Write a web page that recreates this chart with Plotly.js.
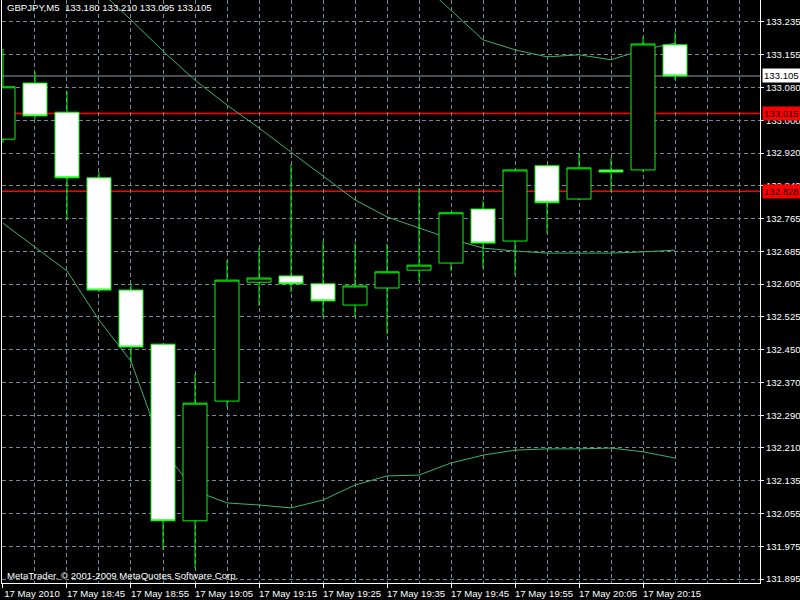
<!DOCTYPE html>
<html>
<head>
<meta charset="utf-8">
<script src="https://cdn.plot.ly/plotly-3.0.1.min.js"></script>
<style>
html,body{margin:0;padding:0;background:#000;}
#chart{width:800px;height:600px;}
</style>
</head>
<body>
<div id="chart"></div>
<script>
// ---------- data ----------
const barTimes = ["18:35","18:40","18:45","18:50","18:55","19:00","19:05","19:10","19:15","19:20","19:25",
                  "19:30","19:35","19:40","19:45","19:50","19:55","20:00","20:05","20:10","20:15","20:20"];
const openP  = [132.953,133.088,133.018,132.860,132.590,132.460,132.035,132.323,132.609,132.624,132.605,
                132.554,132.595,132.638,132.655,132.785,132.708,132.889,132.809,132.879,132.879,133.180];
const highP  = [133.170,133.115,133.069,132.874,132.602,132.462,132.388,132.662,132.691,132.893,132.708,
                132.703,132.701,132.836,132.778,132.804,132.881,132.891,132.920,132.908,133.199,133.210];
const lowP   = [132.944,133.002,132.759,132.585,132.415,131.965,131.921,132.309,132.552,132.585,132.525,
                132.525,132.484,132.609,132.636,132.643,132.626,132.727,132.807,132.826,132.874,133.095];
const closeP = [133.079,133.009,132.860,132.590,132.453,132.035,132.318,132.614,132.619,132.605,132.564,
                132.600,132.634,132.650,132.776,132.703,132.879,132.800,132.884,132.874,133.182,133.105];

const upperBand  = [null,null,null,null,null,null,null,null,null,null,null,null,null,
                    133.334,133.264,133.192,133.168,133.151,133.156,133.144,133.168,133.184];
const middleBand = [null,null,null,133.312,133.240,133.165,133.095,133.035,132.980,132.922,132.865,
                    132.807,132.766,132.739,132.713,132.691,132.684,132.679,132.679,132.679,132.682,132.686];
const lowerBand  = [132.751,132.694,132.636,132.518,132.419,132.205,132.107,132.078,132.073,132.066,132.085,
                    132.121,132.143,132.145,132.174,132.193,132.205,132.208,132.208,132.210,132.201,132.186];

const xTickIndex  = [0,2,4,6,8,10,12,14,16,18,20];
const xTickLabels = ["17 May 2010","17 May 18:45","17 May 18:55","17 May 19:05","17 May 19:15","17 May 19:25",
                     "17 May 19:35","17 May 19:45","17 May 19:55","17 May 20:05","17 May 20:15"];
const yTickLabels = ["133.235","133.155","133.080","133.000","132.920","132.840","132.765","132.685","132.605",
                     "132.525","132.450","132.370","132.290","132.210","132.135","132.055","131.975","131.895"];

const levelPrices = [133.105, 133.015, 132.828];
const symbolTitle = "GBPJPY,M5";
const copyrightText = "MetaTrader, \u00a9 2001-2009 MetaQuotes Software Corp.";

// ---------- styles ----------
const FONT = "Liberation Sans, Arial, sans-serif";
const FS = 9.6;
const GRID = "#778899";
const LIME = "#00FF00";
const BAND = "#3CB371";
const levelLineColors = ["#8A9AAA", "#FF0000", "#FF0000"];
const levelLineWidths = [1, 1.5, 1.5];
const levelBoxColors  = ["#FFFFFF", "#FF0000", "#FF0000"];
const xRange = [-0.031, 23.656];
const yRange = [131.8854, 133.2878];

// ---------- derived ----------
const xIdx = barTimes.map((t, i) => i);
const yHi = parseFloat(yTickLabels[0]);
const yLo = parseFloat(yTickLabels[yTickLabels.length - 1]);
const yTickVals = yTickLabels.map((t, i) => yHi - i * (yHi - yLo) / (yTickLabels.length - 1));
const last = barTimes.length - 1;
const titleText = symbolTitle + "\u00a0\u00a0" +
  [openP[last], highP[last], lowP[last], closeP[last]].map(v => v.toFixed(3)).join("\u00a0");

const bandTrace = (vals) => ({
  type: "scatter", mode: "lines", x: xIdx, y: vals,
  line: {color: BAND, width: 1}, hoverinfo: "skip", connectgaps: false,
  xaxis: "x", yaxis: "y"
});

const traces = [
  bandTrace(upperBand),
  bandTrace(middleBand),
  bandTrace(lowerBand),
  {
    type: "candlestick", x: xIdx, open: openP, high: highP, low: lowP, close: closeP,
    xaxis: "x2", yaxis: "y2",
    increasing: {line: {color: LIME, width: 1}, fillcolor: "#000000"},
    decreasing: {line: {color: LIME, width: 1}, fillcolor: "#FFFFFF"},
    whiskerwidth: 0, hoverinfo: "skip"
  }
];

const shapes = levelPrices.map((p, i) => ({
  type: "line", xref: "x", yref: "y", x0: xRange[0], x1: xRange[1], y0: p, y1: p,
  line: {color: levelLineColors[i], width: levelLineWidths[i]}, layer: "below"
}));

const annotations = levelPrices.map((p, i) => ({
  xref: "paper", x: 1, xanchor: "left", xshift: 2,
  yref: "y", y: p, yanchor: "middle",
  text: p.toFixed(3), showarrow: false,
  bgcolor: levelBoxColors[i], borderpad: 1,
  font: {family: FONT, size: FS, color: "#000000"}
}));
annotations.push({
  xref: "paper", x: 0, xanchor: "left", xshift: 3,
  yref: "paper", y: 8 / 583, yanchor: "middle",
  text: copyrightText, showarrow: false,
  font: {family: FONT, size: FS, color: "#FFFFFF"}
});

const layout = {
  width: 800, height: 600,
  paper_bgcolor: "#000000", plot_bgcolor: "#000000",
  margin: {l: 2, r: 40, t: 0, b: 17, pad: 0},
  showlegend: false,
  hovermode: false,
  font: {family: FONT, size: FS, color: "#FFFFFF"},
  boxgap: 0.25, boxgroupgap: 0,
  title: {
    text: titleText, xref: "container", x: 7 / 800, xanchor: "left",
    yref: "container", y: 1 - 8 / 600, yanchor: "middle",
    font: {family: FONT, size: FS, color: "#FFFFFF"}
  },
  xaxis: {
    range: xRange, fixedrange: true,
    showgrid: true, gridcolor: GRID, gridwidth: 1, griddash: "4px,3px",
    zeroline: false, showline: true, linecolor: "#FFFFFF", linewidth: 1, mirror: false,
    ticks: "outside", ticklen: 4, tickcolor: "#FFFFFF", tickwidth: 1,
    tickmode: "array", tickvals: xTickIndex, ticktext: xTickLabels,
    ticklabelshift: 29, ticklabelstandoff: -3,
    tickfont: {family: FONT, size: FS, color: "#FFFFFF"},
    minor: {dtick: 1, tick0: 0, showgrid: true, gridcolor: GRID, gridwidth: 1, griddash: "4px,3px", ticks: ""},
    rangeslider: {visible: false}
  },
  yaxis: {
    range: yRange, fixedrange: true, side: "right",
    showgrid: true, gridcolor: GRID, gridwidth: 1, griddash: "4px,3px",
    zeroline: false, showline: true, linecolor: "#FFFFFF", linewidth: 1, mirror: true,
    ticks: "outside", ticklen: 3, tickcolor: "#FFFFFF", tickwidth: 1,
    tickmode: "array", tickvals: yTickVals, ticktext: yTickLabels,
    tickfont: {family: FONT, size: FS, color: "#FFFFFF"}
  },
  xaxis2: {overlaying: "x", range: xRange, visible: false, fixedrange: true, rangeslider: {visible: false}},
  yaxis2: {overlaying: "y", range: yRange, visible: false, fixedrange: true},
  shapes: shapes,
  annotations: annotations
};

Plotly.newPlot("chart", traces, layout, {staticPlot: true, displayModeBar: false});
</script>
</body>
</html>
